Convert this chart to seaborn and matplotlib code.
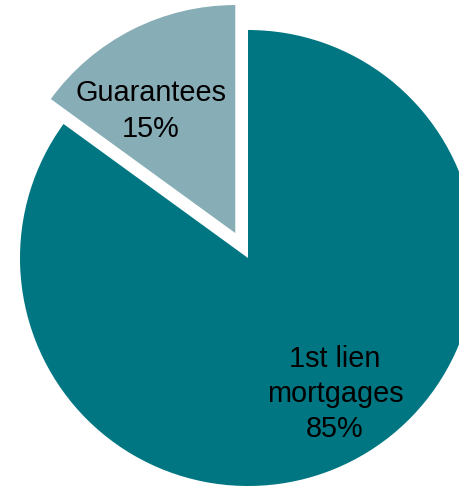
import matplotlib
matplotlib.use("Agg")
import matplotlib.pyplot as plt
import seaborn as sns

categories = ["1st lien\nmortgages", "Guarantees"]
values = [85, 15]
colors = ["#007682", "#87ADB7"]

sns.set_theme(style="white")
plt.rcParams['font.family'] = ['Liberation Sans', 'DejaVu Sans']

fig = plt.figure(figsize=(4.59, 4.88), dpi=100)
ax = fig.add_axes([0, 0, 1, 1])

center = (248, 230)
radius = 228
wedges, _ = ax.pie(values, colors=colors, startangle=90, counterclock=False,
                   center=center, radius=radius, explode=[0, 28],
                   wedgeprops=dict(linewidth=0), frame=True)
ax.set_xlim(0, 459)
ax.set_ylim(0, 488)
ax.set_aspect("equal")
ax.axis("off")

label_pos = [(335, 94), (151, 377)]
for cat, v, (x, y) in zip(categories, values, label_pos):
    ax.text(x, y, f"{cat}\n{v}%", ha="center", va="center", fontsize=20.8,
            color="black", linespacing=1.33)

fig.savefig("out.png", dpi=100)
